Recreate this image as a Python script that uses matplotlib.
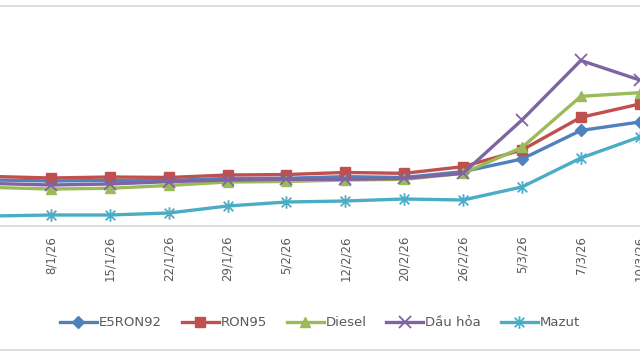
import matplotlib
matplotlib.use("Agg")
import matplotlib.pyplot as plt
from matplotlib.path import Path
from matplotlib.lines import Line2D

dates = ["1/1/26", "8/1/26", "15/1/26", "22/1/26", "29/1/26", "5/2/26", "12/2/26",
         "20/2/26", "26/2/26", "5/3/26", "7/3/26", "10/3/26"]
e5ron92 = [18900, 18750, 18830, 18830, 19130, 19160, 19400, 19280, 20150, 22050, 26330, 27600]
ron95 = [19430, 19200, 19350, 19280, 19650, 19720, 20030, 19900, 20900, 23400, 28300, 30300]
diesel = [17780, 17550, 17660, 18080, 18600, 18680, 18900, 19000, 19900, 23780, 31450, 32000]
dau_hoa = [18380, 18150, 18300, 18650, 18900, 19000, 19000, 19150, 19900, 27900, 36830, 33900]
mazut = [13500, 13650, 13650, 13950, 15000, 15600, 15750, 16050, 15900, 17850, 22200, 25350]

series = [
    ("E5RON92", e5ron92, "#4F81BD", "D", 6.5),
    ("RON95", ron95, "#C0504D", "s", 7),
    ("Diesel", diesel, "#9BBB59", "^", 7.5),
    ("Dầu hỏa", dau_hoa, "#8064A2", "x", 8),
    ("Mazut", mazut, "#4BACC6", None, 9),
]

star = Path([(-1, -1), (1, 1), (-1, 1), (1, -1), (0, -1.3), (0, 1.3)],
            [Path.MOVETO, Path.LINETO, Path.MOVETO, Path.LINETO, Path.MOVETO, Path.LINETO])

fig = plt.figure(figsize=(6.4, 3.6), dpi=100)
ax = fig.add_axes([0, 134 / 360, 1, 220 / 360])

x = list(range(len(dates)))
for name, vals, col, mk, ms in series:
    m = mk if mk is not None else star
    kw = dict(color=col, lw=2.4, marker=m, markersize=ms, label=name, clip_on=False,
              solid_joinstyle="round")
    if mk in ("x",) or mk is None:
        kw.update(markeredgewidth=1.3)
    else:
        kw.update(markeredgecolor=col, markerfacecolor=col)
    ax.plot(x, vals, **kw)

ax.set_xticks(x)
ax.set_xticklabels(dates, rotation=90, fontsize=8.5, color="#595959")
ax.set_xlim(0.134, 11.005)
ax.set_ylim(12000, 45000)
ax.tick_params(axis="x", length=0, pad=7)
ax.set_yticks([])
for s in ["top", "left", "right"]:
    ax.spines[s].set_visible(False)
ax.spines["bottom"].set_color("#D9D9D9")
ax.spines["bottom"].set_linewidth(1.2)
ax.set_facecolor("none")

leg = fig.legend(loc="center", bbox_to_anchor=(320 / 640, 1 - 323 / 360), ncol=5,
                 frameon=False, fontsize=9.5, handlelength=2.8, handletextpad=0.15,
                 columnspacing=1.5, labelcolor="#595959")

fig.add_artist(Line2D([0, 1], [1 - 6 / 360, 1 - 6 / 360], color="#D9D9D9", lw=1.2,
                      transform=fig.transFigure))
fig.add_artist(Line2D([0, 1], [1 - 350 / 360, 1 - 350 / 360], color="#D9D9D9", lw=1.2,
                      transform=fig.transFigure))

fig.savefig("out.png", dpi=100)
